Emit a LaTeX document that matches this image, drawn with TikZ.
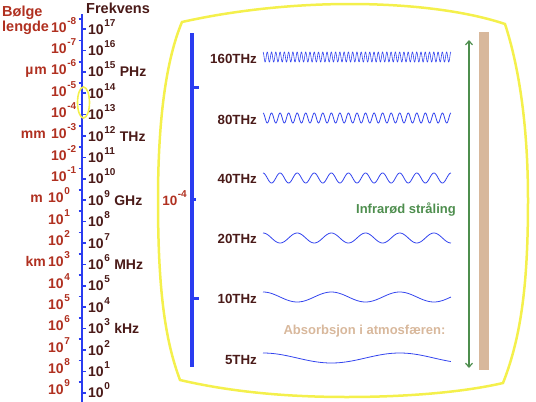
\documentclass[tikz,border=0pt]{standalone}
\usepackage{fontspec}
\setmainfont{Liberation Sans}
\usetikzlibrary{arrows.meta}
\definecolor{lblred}{HTML}{B03020}
\definecolor{lbldark}{HTML}{4A1A18}
\definecolor{axblue}{HTML}{2A3CF0}
\definecolor{wavblue}{HTML}{3344EE}
\definecolor{frameyel}{HTML}{F4F04C}
\definecolor{irgreen}{HTML}{4E8E4E}
\definecolor{absorbtan}{HTML}{D8B89C}
\newcommand{\pw}[1]{10\kern0.6pt\raisebox{8pt}{\fontsize{10}{10}\selectfont #1}}
\begin{document}
\begin{tikzpicture}[x=1pt,y=-1pt,
  lbl/.style={font=\bfseries\fontsize{14}{14}\selectfont, inner sep=0pt},
  redlbl/.style={lbl, text=lblred},
  darklbl/.style={lbl, text=lbldark},
  hdr/.style={font=\bfseries\fontsize{14.5}{14}\selectfont, inner sep=0pt, anchor=base west},
  frq/.style={font=\bfseries\fontsize{13.3}{14}\selectfont, text=lbldark, inner sep=0pt, anchor=base east},
  wave/.style={wavblue, line width=0.8pt},
  yel/.style={frameyel, line width=2.5pt},
  tick/.style={axblue, line width=1.6pt}]
\useasboundingbox (0,0) rectangle (536,402);
% big yellow frame
\draw[yel] (182,22) .. controls (240,9) and (300,4) .. (350,4)
  .. controls (400,4) and (460,9) .. (505,24)
  .. controls (520,70) and (528,130) .. (528,200)
  .. controls (528,280) and (522,335) .. (503,383)
  .. controls (460,393) and (400,397) .. (347,397)
  .. controls (300,397) and (240,394) .. (180,380)
  .. controls (165,340) and (158,290) .. (158,200)
  .. controls (158,120) and (166,60) .. (182,22) -- cycle;
% left scale axis
\draw[axblue, line width=2.6pt] (82,14) -- (82,402);
\foreach \k in {0,...,17} {
  \pgfmathsetmacro\ty{19+21.35*\k}
  \pgfmathtruncatemacro\ex{\k-8}
  \pgfmathsetmacro\lx{\ex<0 ? 51 : 48}
  \draw[tick] (78.5,\ty) -- (82,\ty);
  \node[redlbl, anchor=base west] (L\k) at (\lx,\ty+13) {\pw{\ex}};
}
\foreach \j in {0,...,17} {
  \pgfmathsetmacro\ty{29+21.4*\j}
  \pgfmathtruncatemacro\ex{17-\j}
  \draw[tick] (82,\ty) -- (85.5,\ty);
  \node[darklbl, anchor=base west] (R\j) at (88,\ty+5) {\pw{\ex}};
}
% units
\node[redlbl, anchor=base east] (um) at (47,{19+21.35*2+13}) {µ\kern1pt m};
\node[redlbl, anchor=base east] (mm) at (46,{19+21.35*5+13}) {mm};
\node[redlbl, anchor=base east] (m) at (43,{19+21.35*8+13}) {m};
\node[redlbl, anchor=base east] (km) at (46,{19+21.35*11+13}) {km};
\node[darklbl, anchor=base west] (PHz) at ([xshift=4pt]R2.base east) {PHz};
\node[darklbl, anchor=base west] (THz) at ([xshift=4pt]R5.base east) {THz};
\node[darklbl, anchor=base west] (GHz) at ([xshift=4pt]R8.base east) {GHz};
\node[darklbl, anchor=base west] (MHz) at ([xshift=4pt]R11.base east) {MHz};
\node[darklbl, anchor=base west] (kHz) at ([xshift=4pt]R14.base east) {kHz};
% headers
\node[hdr, text=lblred] (hb) at (2,16) {Bølge};
\node[hdr, text=lblred] (hl) at (2,31) {lengde};
\node[hdr, text=lbldark] (hf) at (86,13) {Frekvens};
% small yellow ellipse
\draw[frameyel, line width=1.6pt] (83.5,102.5) ellipse [x radius=6, y radius=15.5];
% inner blue bar
\draw[axblue, line width=3.5pt] (192,33) -- (192,367);
\draw[axblue, line width=3pt] (192,87) -- (199,87);
\draw[axblue, line width=3pt] (192,298) -- (199,298);
\draw[axblue, line width=3pt] (192,199) -- (195.5,199);
\node[lbl, font=\bfseries\fontsize{13.5}{14}\selectfont, text=lblred, anchor=base east] (m4) at (187,205) {\pw{-4}};
% frequency labels and waves
\node[frq] (f160) at (257,63) {160THz};
\node[frq] (f80) at (257,124) {80THz};
\node[frq] (f40) at (257,183) {40THz};
\node[frq] (f20) at (257,243) {20THz};
\node[frq] (f10) at (257,303) {10THz};
\node[frq] (f5) at (257,364) {5THz};
\draw[wave, line width=0.6pt] plot[domain=0:44.03, samples=900] ({263+4.27*\x},{57-5*cos(360*\x)});
\draw[wave] plot[domain=0:22, samples=450] ({263+8.545*\x},{118-5*cos(360*\x)});
\draw[wave] plot[domain=0:11, samples=250] ({263+17.09*\x},{178-5*cos(360*\x)});
\draw[wave] plot[domain=0:5.5, samples=150] ({263+34.18*\x},{238-5*cos(360*\x)});
\draw[wave] plot[domain=0:2.75, samples=100] ({263+68.36*\x},{297-5*cos(360*\x)});
\draw[wave] plot[domain=0:1.375, samples=80] ({263+136.7*\x},{358-5*cos(360*\x)});
% green arrow and tan bar
\coordinate (atop) at (469,40);
\coordinate (abot) at (469,368);
\draw[irgreen, line width=1.2pt, {Straight Barb[length=4pt,width=7pt]}-{Straight Barb[length=4pt,width=7pt]}] (atop) -- (abot);
\fill[absorbtan] (479,32) rectangle (488.5,370);
\node[font=\bfseries\fontsize{13}{14}\selectfont, text=irgreen, inner sep=0pt] (ir) at (406,210) {Infrarød stråling};
\node[font=\bfseries\fontsize{13}{14}\selectfont, text=absorbtan, inner sep=0pt] (abs) at (364.5,331) {Absorbsjon i atmosfæren:};
\end{tikzpicture}
\end{document}
